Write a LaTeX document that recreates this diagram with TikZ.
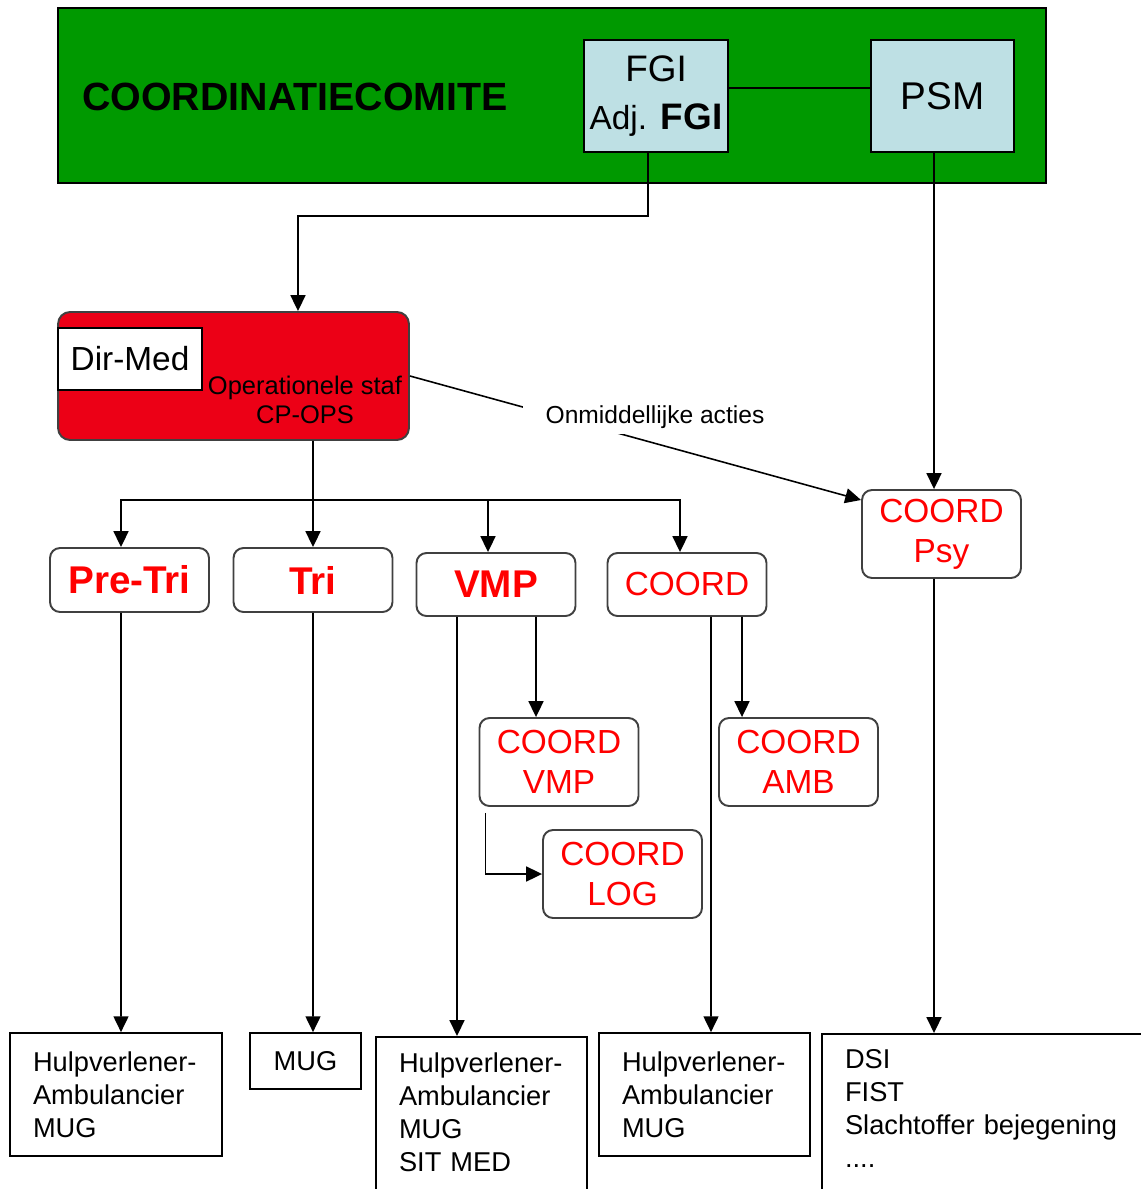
\documentclass[tikz,border=0pt]{standalone}
\usepackage{fontspec}
\setmainfont{Liberation Sans}
\usetikzlibrary{arrows.meta}
\definecolor{cgreen}{RGB}{0,153,0}
\definecolor{cblue}{RGB}{190,224,228}
\definecolor{cred}{RGB}{236,0,22}
\begin{document}
\begin{tikzpicture}[x=.02cm, y=-.02cm,
    arr/.style={-{Triangle[length=9pt,width=8.5pt]}, line width=.9pt},
    rbox/.style={draw=black!75, line width=1.1pt, rounded corners=.2cm, fill=white, text=red, align=center, font=\fontsize{19}{22.7}\selectfont, minimum width=3.18cm},
    lbox/.style={draw, line width=1pt, fill=white, align=left, inner xsep=.46cm, font=\fontsize{15.5}{18.7}\selectfont},
    sbox/.style={draw, line width=1pt, fill=cblue, minimum width=2.85cm, minimum height=2.24cm, align=center}]
    \useasboundingbox (0,0) rectangle (1141,1189);
    \clip (0,0) rectangle (1141,1189);
    \node [draw, line width=1pt, fill=cgreen, minimum width=19.76cm, minimum height=3.5cm] (cc) at (552,95.5) {};
    \node [font=\bfseries\fontsize{22.4}{26}\selectfont] (cctxt) at (295,97) {COORDINATIECOMITE};
    \node [sbox, font=\fontsize{21}{27}\selectfont] (fgi) at (656,96) {FGI\\{\fontsize{19}{27}\selectfont Adj.} \textbf{FGI}};
    \node [sbox, font=\fontsize{22}{27}\selectfont] (psm) at (942.5,96) {PSM};
    \draw [line width=.9pt] ([yshift=.16cm]fgi.east) -- ([yshift=.16cm]psm.west);

    \node [draw=black!75, line width=1.1pt, rounded corners=.24cm, fill=cred, minimum width=7.02cm, minimum height=2.56cm] (ops) at (233.5,376) {};
    \node [draw, line width=1pt, fill=white, minimum width=2.88cm, minimum height=1.24cm, font=\fontsize{19}{23}\selectfont] (dm) at (130,359) {Dir-Med};
    \node [align=center, font=\fontsize{14.5}{16.4}\selectfont] (opstxt) at (305,400) {Operationele staf\\CP-OPS};
    \draw [arr] ([xshift=-.16cm]fgi.south) -- ++(0,63) -| ([xshift=1.29cm]ops.north);

    \node [rbox, minimum height=1.76cm] (psy) at (941.5,534) {COORD\\Psy};
    \draw [arr] ([xshift=-.17cm]psm.south) -- ([xshift=-.15cm]psy.north);
    \draw [arr] (ops.east) -- ([yshift=.68cm]psy.west);
    \node [fill=white, inner xsep=.46cm, inner ysep=.11cm, font=\fontsize{14}{16}\selectfont] (acties) at (655,417) {Onmiddellijke acties};

    \node [rbox, minimum height=1.28cm, font=\bfseries\fontsize{22}{26}\selectfont] (pt) at (129.5,580) {Pre-Tri};
    \node [rbox, minimum height=1.28cm, font=\bfseries\fontsize{22}{26}\selectfont] (tri) at (313,580) {Tri};
    \node [rbox, minimum height=1.26cm, font=\bfseries\fontsize{22}{26}\selectfont] (vmp) at (496,584.5) {VMP};
    \node [rbox, minimum height=1.26cm] (crd) at (687,584.5) {COORD};
    \coordinate (br) at (313,500);
    \draw [line width=.9pt] ([xshift=1.59cm]ops.south) -- (br);
    \draw [arr] (br) -| ([xshift=-.17cm]pt.north);
    \draw [arr] (br) -- (tri.north);
    \draw [arr] (br) -| ([xshift=-.16cm]vmp.north);
    \draw [arr] (br) -| ([xshift=-.14cm]crd.north);

    \node [rbox, minimum height=1.76cm] (cvmp) at (559,762) {COORD\\VMP};
    \node [rbox, minimum height=1.76cm] (camb) at (798.5,762) {COORD\\AMB};
    \node [rbox, minimum height=1.76cm] (clog) at (622.5,874) {COORD\\LOG};
    \draw [arr] ([xshift=.8cm]vmp.south) -- ([xshift=-.46cm]cvmp.north);
    \draw [arr] ([xshift=1.1cm]crd.south) -- ([xshift=-1.13cm]camb.north);
    \draw [arr] ([shift={(.14cm,-.12cm)}]cvmp.south west) |- (clog.west);

    \node [lbox, minimum width=4.24cm, minimum height=2.46cm, text width=3.32cm] (h1) at (116,1094.5) {Hulpverlener-\\Ambulancier\\MUG};
    \node [lbox, inner xsep=0pt, minimum width=2.22cm, minimum height=1.12cm, align=center] (h2) at (305.5,1061) {MUG};
    \node [lbox, anchor=north, inner ysep=9pt, text depth=2.6cm, minimum width=4.22cm, text width=3.3cm] (h3) at (481.5,1036) {Hulpverlener-\\Ambulancier\\MUG\\SIT MED};
    \node [lbox, minimum width=4.22cm, minimum height=2.46cm, text width=3.3cm] (h4) at (704.5,1094.5) {Hulpverlener-\\Ambulancier\\MUG};
    \node [lbox, anchor=north, inner ysep=9pt, text depth=2.6cm, minimum width=6.76cm, text width=5.84cm] (h5) at (991,1033) {DSI\\FIST\\Slachtoffer bejegening\\....};
    \draw [arr] ([xshift=-.17cm]pt.south) -- ([xshift=.1cm]h1.north);
    \draw [arr] (tri.south) -- ([xshift=.15cm]h2.north);
    \draw [arr] ([xshift=-.78cm]vmp.south) -- ([xshift=-.49cm]h3.north);
    \draw [arr] ([xshift=.48cm]crd.south) -- ([xshift=.13cm]h4.north);
    \draw [arr] ([xshift=-.15cm]psy.south) -- ([xshift=-1.14cm]h5.north);
\end{tikzpicture}
\end{document}
